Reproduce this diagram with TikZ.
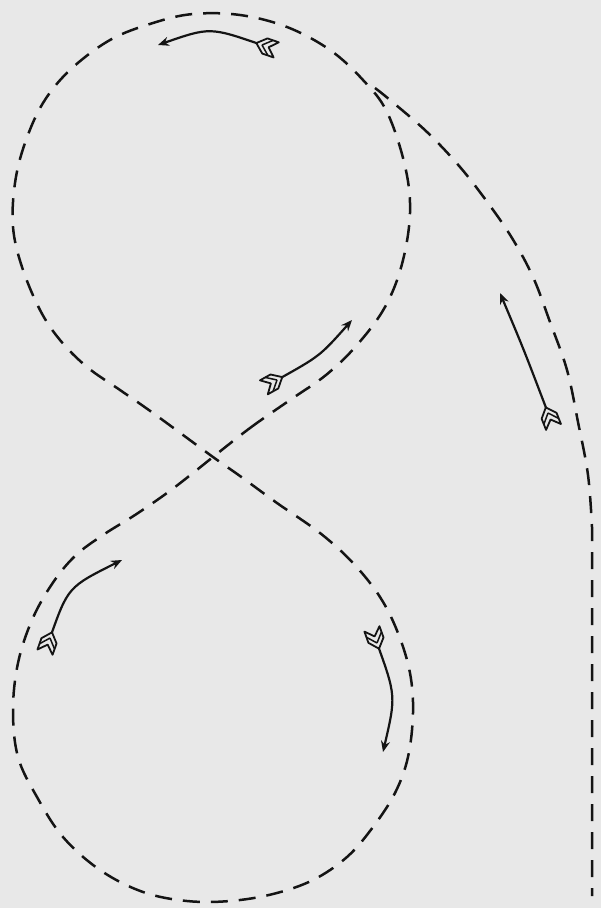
\documentclass[tikz,border=0pt]{standalone}
\usetikzlibrary{arrows.meta}
\definecolor{bg}{RGB}{232,232,232}
\definecolor{ink}{RGB}{20,20,20}
\begin{document}
\begin{tikzpicture}[x=1pt,y=-1pt,
  trackline/.style={draw=ink,line width=2.5pt,dash pattern=on 17pt off 11pt},
  fletch/.pic={\draw[ink,solid,line width=1.8pt,line join=round,fill=bg]
     (6,0)--(-3,8)--(-15,8)--(-7,0)--(-15,-8)--(-3,-8)--cycle;
     \draw[ink,solid,line width=1.5pt] (0,0)--(-9,8) (0,0)--(-9,-8);},
  flyarrow/.style={draw=ink,line width=2.2pt,-{Stealth[length=11pt,width=9pt]}}]
\fill[bg] (0,0) rectangle (601,908);
\useasboundingbox (0,0) rectangle (601,908);
% figure eight
\draw[trackline] plot[smooth cycle,tension=0.6] coordinates {
 (213,457) (250,428) (290,400) (326,375) (357,345) (385,307) (402,264) (410,213)
 (405,166) (387,112) (363,80) (330,50) (287,27) (240,15) (193,14) (153,23) (110,40)
 (70,70) (43,103) (25,143) (15,183) (13,227) (22,267) (40,310) (60,340) (87,367)
 (120,390) (153,413)
 (213,457) (240,476) (277,503) (320,533) (353,563) (380,597) (398,633) (410,673)
 (413,713) (408,757) (395,793) (373,827) (347,857) (313,880) (273,894) (230,901)
 (187,901) (143,892) (100,870) (63,837) (37,797) (18,757) (13,710) (18,663)
 (32,620) (52,584) (75,556) (103,535) (135,515) (167,493) (193,473)};
% outer track
\draw[trackline] plot[smooth,tension=0.6] coordinates {
 (375,88) (390,100) (427,132) (460,167) (488,203) (512,238) (533,277) (550,322)
 (567,370) (578,422) (588,475) (592,527)} -- (592,896);
% arrows
\coordinate (a1) at (262,45); \coordinate (b1) at (158,45);
\coordinate (a2) at (277,380); \coordinate (b2) at (352,320);
\coordinate (a3) at (548,413); \coordinate (b3) at (500,293);
\coordinate (a4) at (50,638); \coordinate (b4) at (122,560);
\coordinate (a5) at (377,643); \coordinate (b5) at (383,752);
\draw[flyarrow] (a1) .. controls (210,27) .. (b1);
\draw[flyarrow] (a2) .. controls (320,356) .. (b2);
\draw[flyarrow] (a3) .. controls (524,350) .. (b3);
\draw[flyarrow] (a4) .. controls (68,587) .. (b4);
\draw[flyarrow] (a5) .. controls (396,696) .. (b5);
\pic[rotate=161] at (a1) {fletch};
\pic[rotate=29.2] at (a2) {fletch};
\pic[rotate=111.5] at (a3) {fletch};
\pic[rotate=70.6] at (a4) {fletch};
\pic[rotate=-70.3] at (a5) {fletch};
\end{tikzpicture}
\end{document}
